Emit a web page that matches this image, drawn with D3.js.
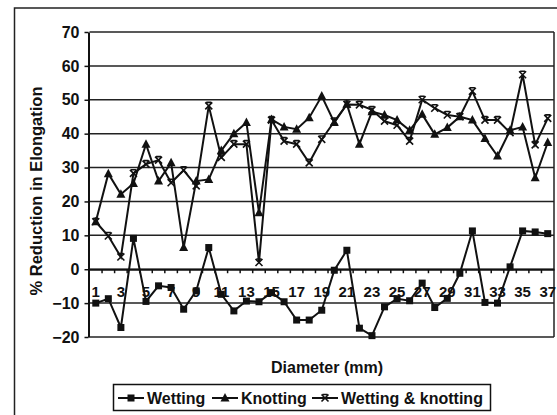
<!DOCTYPE html>
<html>
<head>
<meta charset="utf-8">
<script src="https://cdn.jsdelivr.net/npm/d3@7"></script>
<style>
  body { margin: 0; background: #fff; }
  svg { display: block; }
  text { font-family: 'Liberation Sans', Arial, sans-serif; font-weight: bold; fill: #111; }
</style>
</head>
<body>
<script>
// diameters 1..37 mm
const diameters = d3.range(1, 38)

const wetting = [-10, -8.7, -17.2, 9.1, -9.5, -4.9, -5.4, -11.8, -6.4, 6.4,
  -7.4, -12.3, -9.4, -9.6, -6.9, -9.6, -15, -15, -12.1, -0.3,
  5.6, -17.4, -19.6, -11.1, -8.7, -9.3, -4.1, -11.3, -8.6, -1.2,
  11.3, -9.8, -10, 0.7, 11.3, 11, 10.5]

const knotting = [14, 28.2, 22.1, 25.3, 36.9, 26, 31.4, 6.4, 26, 26.5,
  35, 40, 43.3, 16.7, 44.2, 42, 41.3, 44.7, 51.1, 43.3,
  48.7, 36.9, 46.5, 45.5, 44, 41, 45.7, 39.8, 41.8, 45,
  44, 38.6, 33.4, 41, 42, 27, 37.4]

const wettingKnotting = [14, 9.8, 3.6, 28.3, 31, 32.2, 25.5, 29.2, 24.6, 48.2,
  33, 36.9, 36.9, 2, 44, 37.8, 36.9, 31.4, 38.3, 43.6,
  48.6, 48.5, 47, 43.7, 42.5, 37.8, 50, 47.5, 45.5, 45,
  52.5, 44, 44, 40.3, 57.4, 36.7, 44.5]

const yTicks = [-20, -10, 0, 10, 20, 30, 40, 50, 60, 70]

const series = [
  {name: 'Wetting', values: wetting, marker: 'square'},
  {name: 'Knotting', values: knotting, marker: 'triangle'},
  {name: 'Wetting & knotting', values: wettingKnotting, marker: 'cross'},
]

const width = 557
const height = 415
const margin = {top: 32, right: 3, bottom: 78, left: 89.5}

const svg = d3.select('body').append('svg')
  .attr('width', width)
  .attr('height', height)

// outer chart frame (only the left and top edges fall inside the picture)
svg.append('rect')
  .attr('x', 14.5).attr('y', 8)
  .attr('width', 560).attr('height', 420)
  .attr('fill', 'none').attr('stroke', '#222').attr('stroke-width', 1.5)

const x = d3.scaleBand()
  .domain(diameters)
  .range([margin.left, width - margin.right])

const y = d3.scaleLinear()
  .domain([-20, 70])
  .range([height - margin.bottom, margin.top])

// gridlines
svg.append('g')
  .selectAll('line')
  .data(yTicks)
  .join('line')
    .attr('x1', margin.left)
    .attr('x2', width - margin.right)
    .attr('y1', d => y(d))
    .attr('y2', d => y(d))
    .attr('stroke', '#222')
    .attr('stroke-width', 1.5)

// right border of plot
svg.append('line')
  .attr('x1', width - margin.right).attr('x2', width - margin.right)
  .attr('y1', y(70)).attr('y2', y(-20))
  .attr('stroke', '#222').attr('stroke-width', 1.5)

// y axis
const yAxis = svg.append('g')
  .attr('transform', `translate(${margin.left - 1},0)`)
  .call(d3.axisLeft(y).tickValues(yTicks).tickSize(4).tickPadding(5).tickSizeOuter(0))
yAxis.select('.domain').attr('stroke', '#111').attr('stroke-width', 2)
yAxis.selectAll('.tick line').attr('stroke', '#111').attr('stroke-width', 1.5)
yAxis.selectAll('.tick text').style('font-size', '16px')

// x axis on the zero line, ticks between categories
const xAxis = svg.append('g')
  .attr('transform', `translate(0,${y(0)})`)
  .call(d3.axisBottom(x).tickSize(0).tickPadding(17)
    .tickFormat(d => d % 2 === 1 ? d : ''))
xAxis.select('.domain').attr('stroke', '#111').attr('stroke-width', 2)
xAxis.selectAll('.tick text').style('font-size', '15px')

svg.append('g')
  .selectAll('line')
  .data(diameters.slice(1))
  .join('line')
    .attr('x1', d => x(d))
    .attr('x2', d => x(d))
    .attr('y1', y(0))
    .attr('y2', y(0) + 4)
    .attr('stroke', '#111')
    .attr('stroke-width', 1.5)

const line = d3.line()
  .x((d, i) => x(diameters[i]) + x.bandwidth() / 2)
  .y(d => y(d))

function marker(g, type) {
  if (type === 'square') {
    g.append('rect')
      .attr('x', -3.5).attr('y', -3.5).attr('width', 7).attr('height', 7)
      .attr('fill', '#111')
  } else if (type === 'triangle') {
    g.append('path')
      .attr('d', 'M0,-5 L4.5,3.5 L-4.5,3.5 Z')
      .attr('fill', '#111')
  } else {
    g.append('path')
      .attr('d', 'M-3.5,-3.5 L3.5,3.5 M-3.5,3.5 L3.5,-3.5 M-2.5,-3.5 L2.5,-3.5')
      .attr('stroke', '#111').attr('stroke-width', 1.6).attr('fill', 'none')
  }
}

for (const s of series) {
  svg.append('path')
    .datum(s.values)
    .attr('d', line)
    .attr('fill', 'none')
    .attr('stroke', '#111')
    .attr('stroke-width', 2)

  svg.append('g')
    .selectAll('g')
    .data(s.values)
    .join('g')
      .attr('transform', (d, i) => `translate(${x(diameters[i]) + x.bandwidth() / 2},${y(d)})`)
      .each(function () { marker(d3.select(this), s.marker) })
}

// axis titles
svg.append('text')
  .attr('transform', `translate(42,${(82 + 300) / 2}) rotate(-90)`)
  .attr('text-anchor', 'middle')
  .style('font-size', '16.5px')
  .text('% Reduction in Elongation')

svg.append('text')
  .attr('x', 327)
  .attr('y', 373)
  .attr('text-anchor', 'middle')
  .style('font-size', '16px')
  .text('Diameter (mm)')

// legend
const legend = svg.append('g')
legend.append('rect')
  .attr('x', 113.5).attr('y', 384.5)
  .attr('width', 377).attr('height', 26)
  .attr('fill', 'none').attr('stroke', '#111').attr('stroke-width', 1.5)

const legendX = [118, 212, 312]
const item = legend.selectAll('g.item')
  .data(series)
  .join('g')
    .attr('class', 'item')
    .attr('transform', (d, i) => `translate(${legendX[i]},398)`)

item.append('line')
  .attr('x1', 0).attr('x2', 26)
  .attr('stroke', '#111').attr('stroke-width', 2)
item.append('g')
  .attr('transform', 'translate(13,0)')
  .each(function (d) { marker(d3.select(this), d.marker) })
item.append('text')
  .attr('x', 29)
  .attr('y', 6)
  .style('font-size', '16px')
  .text(d => d.name)
</script>
</body>
</html>
